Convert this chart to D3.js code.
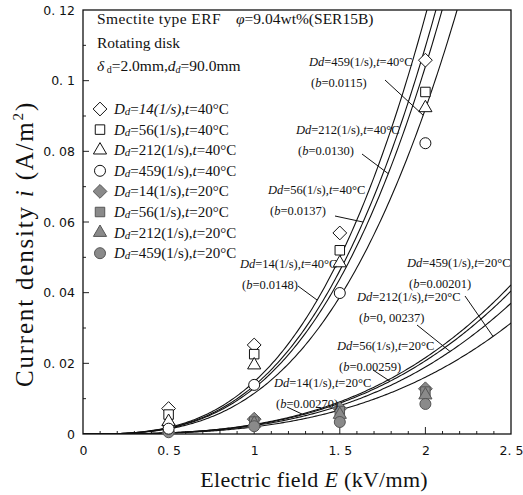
<!DOCTYPE html>
<html>
<head>
<meta charset="utf-8">
<script src="https://cdn.jsdelivr.net/npm/d3@7"></script>
<style>
  html, body { margin: 0; padding: 0; background: #fff; }
  svg { display: block; }
</style>
</head>
<body>
<svg id="chart" width="523" height="495"></svg>
<script>
// Electric field (kV/mm) at which the current density was measured
const fields = [0.5, 1, 1.5, 2];
// Disk shear rates Dd (1/s)
const rates = [14, 56, 212, 459];
// Measured current density i (A/m^2) at 40 °C, one row per shear rate
const current40 = [
  [0.0072, 0.0252, 0.0569, 0.1058],
  [0.0055, 0.0226, 0.0520, 0.0968],
  [0.0035, 0.0195, 0.0484, 0.0923],
  [0.0015, 0.0139, 0.0399, 0.0823]
];
// Measured current density i (A/m^2) at 20 °C
const current20 = [
  [0.0025, 0.0042, 0.0072, 0.0128],
  [0.0018, 0.0035, 0.0065, 0.0120],
  [0.0012, 0.0030, 0.0055, 0.0110],
  [0.0005, 0.0022, 0.0034, 0.0085]
];
// Fitted coefficient b of i = b·E^3 for each shear rate
const fitB40 = [0.0148, 0.0137, 0.0130, 0.0115];
const fitB20 = [0.00270, 0.00259, 0.00237, 0.00201];
const fitB40Text = ["0.0148", "0.0137", "0.0130", "0.0115"];
const fitB20Text = ["0.00270", "0.00259", "0, 00237", "0.00201"];
const fitExponent = 3;
// Axis ticks
const xTicks = [0, 0.5, 1, 1.5, 2, 2.5];
const yTicks = [0, 0.02, 0.04, 0.06, 0.08, 0.1, 0.12];

const svg = d3.select("#chart");
const margin = { left: 83, right: 511, top: 10, bottom: 434 };
const x = d3.scaleLinear().domain([0, 2.5]).range([margin.left, margin.right]);
const y = d3.scaleLinear().domain([0, 0.12]).range([margin.bottom, margin.top]);

const serif = "'Liberation Serif', 'Times New Roman', serif";
const sans = "'DejaVu Sans', sans-serif";
const tickFmt = d => String(d).replace(".", ". ");

// clip region for fitted curves
svg.append("defs").append("clipPath").attr("id", "plotClip")
  .append("rect")
  .attr("x", margin.left).attr("y", margin.top)
  .attr("width", margin.right - margin.left)
  .attr("height", margin.bottom - margin.top);

// ---- axes ----
const xAxis = d3.axisBottom(x).tickValues(xTicks).tickSize(0).tickPadding(12).tickFormat(tickFmt);
const gx = svg.append("g").attr("transform", `translate(0,${margin.bottom})`).call(xAxis);
gx.select(".domain").remove();
gx.selectAll("text").attr("font-family", sans).attr("font-size", 12.5).attr("fill", "#111");

const yAxis = d3.axisLeft(y).tickValues(yTicks).tickSize(0).tickPadding(8).tickFormat(tickFmt);
const gy = svg.append("g").attr("transform", `translate(${margin.left},0)`).call(yAxis);
gy.select(".domain").remove();
gy.selectAll("text").attr("font-family", sans).attr("font-size", 12.5).attr("fill", "#111");

// inward tick marks: minor every 0.1 kV/mm and 0.01 A/m^2
const xMinor = d3.range(1, 25).map(k => k / 10);
const majorX = v => Math.abs(v * 2 - Math.round(v * 2)) < 1e-9;
svg.append("g").selectAll("line").data(xMinor).join("line")
  .attr("x1", d => x(d)).attr("x2", d => x(d))
  .attr("y1", margin.bottom).attr("y2", d => margin.bottom - (majorX(d) ? 7 : 3))
  .attr("stroke", "#222").attr("stroke-width", 1);
const yMinor = d3.range(1, 12).map(k => k / 100);
svg.append("g").selectAll("line").data(yMinor).join("line")
  .attr("y1", d => y(d)).attr("y2", d => y(d))
  .attr("x1", margin.left).attr("x2", d => margin.left + (Math.round(d * 100) % 2 === 0 ? 6 : 3))
  .attr("stroke", "#222").attr("stroke-width", 1);

// frame
svg.append("rect")
  .attr("x", margin.left).attr("y", margin.top)
  .attr("width", margin.right - margin.left)
  .attr("height", margin.bottom - margin.top)
  .attr("fill", "none").attr("stroke", "#111").attr("stroke-width", 1.3);

// axis titles
svg.append("text")
  .attr("x", x(1.35)).attr("y", 487)
  .attr("text-anchor", "middle")
  .attr("font-family", serif).attr("font-size", 22).attr("fill", "#111")
  .attr("letter-spacing", 0.3)
  .html('Electric field <tspan font-style="italic">E</tspan> (kV/mm)');
svg.append("text")
  .attr("transform", "translate(33,244) rotate(-90)")
  .attr("text-anchor", "middle")
  .attr("font-family", serif).attr("font-size", 25).attr("fill", "#111")
  .attr("letter-spacing", 1.8)
  .html('Current density  <tspan font-style="italic">i</tspan> (A/m<tspan dy="-10" font-size="15">2</tspan><tspan dy="10">)</tspan>');

// ---- fitted curves i = b·E^n ----
const curveE = d3.range(0, 2.5001, 0.01);
const line = d3.line().x(d => x(d[0])).y(d => y(d[1]));
const curves = svg.append("g").attr("clip-path", "url(#plotClip)");
[...fitB40, ...fitB20].forEach(b => {
  curves.append("path")
    .attr("d", line(curveE.map(E => [E, b * Math.pow(E, fitExponent)])))
    .attr("fill", "none").attr("stroke", "#111").attr("stroke-width", 1.1);
});

// ---- markers ----
const diamond = {
  draw(ctx, size) {
    const r = Math.sqrt(size / 2);
    ctx.moveTo(0, -r); ctx.lineTo(r, 0); ctx.lineTo(0, r); ctx.lineTo(-r, 0); ctx.closePath();
  }
};
const shapes = [diamond, d3.symbolSquare, d3.symbolTriangle, d3.symbolCircle];
const shapeSize = [95, 90, 75, 95];
const symbolPath = (i) => d3.symbol().type(shapes[i]).size(shapeSize[i])();
const hollowStyle = s => s.attr("fill", "#fff").attr("stroke", "#111").attr("stroke-width", 1);
const filledStyle = s => s.attr("fill", "#8a8a8a").attr("stroke", "#555").attr("stroke-width", 1);

const pts = svg.append("g");
// 20 °C first so the hollow 40 °C markers sit on top where they overlap
rates.forEach((r, ri) => {
  pts.append("g").selectAll("path").data(current20[ri]).join("path")
    .attr("d", symbolPath(ri))
    .attr("transform", (d, k) => `translate(${x(fields[k])},${y(d)})`)
    .call(filledStyle);
});
rates.forEach((r, ri) => {
  pts.append("g").selectAll("path").data(current40[ri]).join("path")
    .attr("d", symbolPath(ri))
    .attr("transform", (d, k) => `translate(${x(fields[k])},${y(d)})`)
    .call(hollowStyle);
});

// ---- header notes ----
const header = svg.append("g").attr("font-family", serif).attr("font-size", 15.5).attr("fill", "#111");
header.append("text").attr("x", 97).attr("y", 24).attr("letter-spacing", 0.4).text("Smectite type ERF");
header.append("text").attr("x", 236).attr("y", 24)
  .html('<tspan font-style="italic">φ</tspan>=9.04wt%(SER15B)');
header.append("text").attr("x", 97).attr("y", 48).text("Rotating disk");
header.append("text").attr("x", 97).attr("y", 71)
  .html('<tspan font-style="italic">δ</tspan><tspan font-size="10" dy="2"> d</tspan><tspan dy="-2">=2.0mm,</tspan><tspan font-style="italic">d</tspan><tspan font-size="10" font-style="italic" dy="2">d</tspan><tspan dy="-2">=90.0mm</tspan>');

// ---- legend ----
const legend = svg.append("g").attr("font-family", serif).attr("font-size", 15).attr("fill", "#111");
const legendRows = [];
[40, 20].forEach(t => rates.forEach((r, ri) => legendRows.push({ t, r, ri })));
legendRows.forEach((row, k) => {
  const cy = 109 + k * 20.6;
  legend.append("path")
    .attr("d", symbolPath(row.ri))
    .attr("transform", `translate(100,${cy})`)
    .call(row.t === 40 ? hollowStyle : filledStyle);
  const rateText = k === 0
    ? `<tspan font-style="italic">${row.r}(1/s)</tspan>`
    : `${row.r}(1/s)`;
  legend.append("text").attr("x", 114).attr("y", cy + 5)
    .html(`<tspan font-style="italic">D</tspan><tspan font-style="italic" font-size="11" dy="1">d</tspan><tspan dy="-1">=</tspan>${rateText},<tspan font-style="italic">t</tspan>=${row.t}°C`);
});

// ---- curve annotations ----
// text anchor (px) and the field value where the leader line meets its curve
const annLayout = [
  { t: 40, ri: 3, tx: 309, ty: 66, lx: 385, ly: 80, E: 1.987 },
  { t: 40, ri: 2, tx: 296, ty: 134, lx: 362, ly: 154, E: 1.783 },
  { t: 40, ri: 1, tx: 268, ty: 194, lx: 335, ly: 216, E: 1.636 },
  { t: 40, ri: 0, tx: 240, ty: 268, lx: 298, ly: 286, E: 1.368 },
  { t: 20, ri: 3, tx: 407, ty: 267, lx: 465, ly: 296, E: 2.395 },
  { t: 20, ri: 2, tx: 357, ty: 301, lx: 417, ly: 325, E: 2.144 },
  { t: 20, ri: 1, tx: 337, ty: 350, lx: 373, ly: 370, E: 1.793 },
  { t: 20, ri: 0, tx: 274, ty: 387, lx: 287, ly: 407, E: 1.279 }
];
const ann = svg.append("g").attr("font-family", serif).attr("font-size", 12.5).attr("fill", "#111");
annLayout.forEach(a => {
  const b = a.t === 40 ? fitB40[a.ri] : fitB20[a.ri];
  const bText = a.t === 40 ? fitB40Text[a.ri] : fitB20Text[a.ri];
  ann.append("text").attr("x", a.tx).attr("y", a.ty)
    .html(`<tspan font-style="italic">Dd</tspan>=${rates[a.ri]}(1/s),<tspan font-style="italic">t</tspan>=${a.t}°C`);
  ann.append("text").attr("x", a.tx + 2).attr("y", a.ty + 21)
    .html(`(<tspan font-style="italic">b</tspan>=${bText})`);
  ann.append("line")
    .attr("x1", a.lx).attr("y1", a.ly)
    .attr("x2", x(a.E)).attr("y2", y(b * Math.pow(a.E, fitExponent)))
    .attr("stroke", "#111").attr("stroke-width", 1);
});
</script>
</body>
</html>
